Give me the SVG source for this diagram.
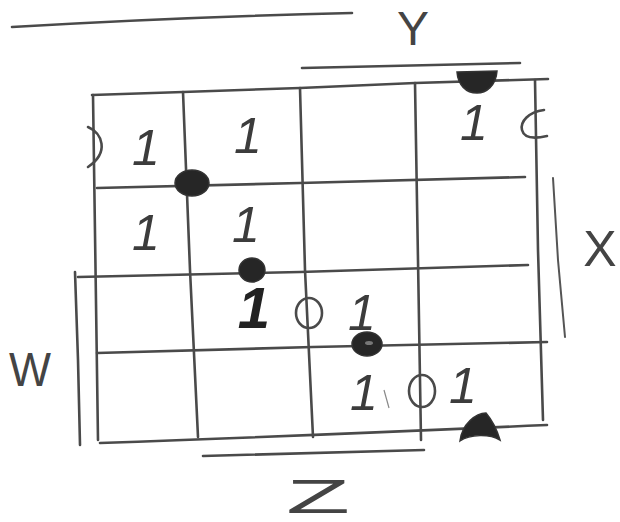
<svg xmlns="http://www.w3.org/2000/svg" width="620" height="522" viewBox="0 0 620 522">
<style>
.ln{fill:none;stroke:#4a4a4a;stroke-width:2.6;stroke-linecap:round;stroke-linejoin:round}
.th{fill:none;stroke:#555;stroke-width:2;stroke-linecap:round}
.blob{fill:#262626;stroke:#333;stroke-width:1.5}
.one{font-family:"Liberation Sans",Arial,sans-serif;font-style:italic;font-size:50px;fill:#3c3c3c;text-anchor:middle}
.lab{font-family:"Liberation Sans",Arial,sans-serif;font-size:48px;fill:#444;text-anchor:middle}
</style>
<rect width="620" height="522" fill="#fff"/>
<g id="labels-lines">
<path class="ln" d="M12,27 Q180,17 352,13"/>
<path class="ln" d="M302,68 L520,63"/>
<path class="ln" d="M203,456 L424,450"/>
<path class="ln" d="M75,272 L78,360 L80,445"/>
<path class="th" d="M553,178 L558,260 L565,337"/>
</g>
<g id="grid">
<path class="ln" d="M92,95 L183,92 L300,88 L415,83 L548,79"/>
<path class="ln" d="M97,188 L300,183 L525,177"/>
<path class="ln" d="M78,277 L300,272 L528,265"/>
<path class="ln" d="M97,353 L313,347 L547,342"/>
<path class="ln" d="M100,443 Q300,436 547,425"/>
<path class="ln" d="M93,95 Q96,270 98,440"/>
<path class="ln" d="M183,92 L190,270 L198,437"/>
<path class="ln" d="M300,88 L305,270 L313,437"/>
<path class="ln" d="M415,83 L418,260 L421,440"/>
<path class="ln" d="M535,80 L538,250 L543,420"/>
</g>
<g id="marks">
<ellipse class="blob" cx="192" cy="183" rx="17" ry="13"/>
<ellipse class="blob" cx="252" cy="270" rx="13" ry="12"/>
<ellipse class="blob" cx="367" cy="344" rx="15" ry="12"/>
<ellipse cx="369" cy="343" rx="4" ry="2" fill="#777"/>
<path class="blob" d="M457,72 L497,71 C496,86 486,93 477,93 C466,93 458,85 457,72 Z"/>
<path class="blob" d="M460,441 C462,424 476,413 486,413 C492,420 497,430 500,440 C490,434 470,434 460,441 Z"/>
<path class="ln" d="M544,110 C528,112 520,122 522,130 C524,138 534,139 547,136"/>
<path class="ln" d="M88,127 C102,133 110,152 88,167"/>
<ellipse class="ln" cx="309" cy="313" rx="13" ry="15"/>
<ellipse class="ln" cx="422" cy="391" rx="13" ry="16"/>
<path d="M384,390 L389,408" stroke="#888" stroke-width="1.2" fill="none"/>
</g>
<g id="values">
<text class="one" x="146" y="165">1</text>
<text class="one" x="248" y="153">1</text>
<text class="one" x="474" y="140">1</text>
<text class="one" x="146" y="250">1</text>
<text class="one" x="246" y="242">1</text>
<text class="one" x="254" y="328" style="font-weight:bold;font-size:58px;fill:#222">1</text>
<text class="one" x="362" y="330">1</text>
<text class="one" x="364" y="410">1</text>
<text class="one" x="463" y="403">1</text>
</g>
<g id="names">
<text class="lab" x="413" y="45">Y</text>
<text class="lab" x="600" y="266" style="font-size:50px">X</text>
<text class="lab" x="30" y="386" textLength="42" lengthAdjust="spacingAndGlyphs">W</text>
<text class="lab" x="318" y="513" textLength="64" lengthAdjust="spacingAndGlyphs">Z</text>
</g>
</svg>
